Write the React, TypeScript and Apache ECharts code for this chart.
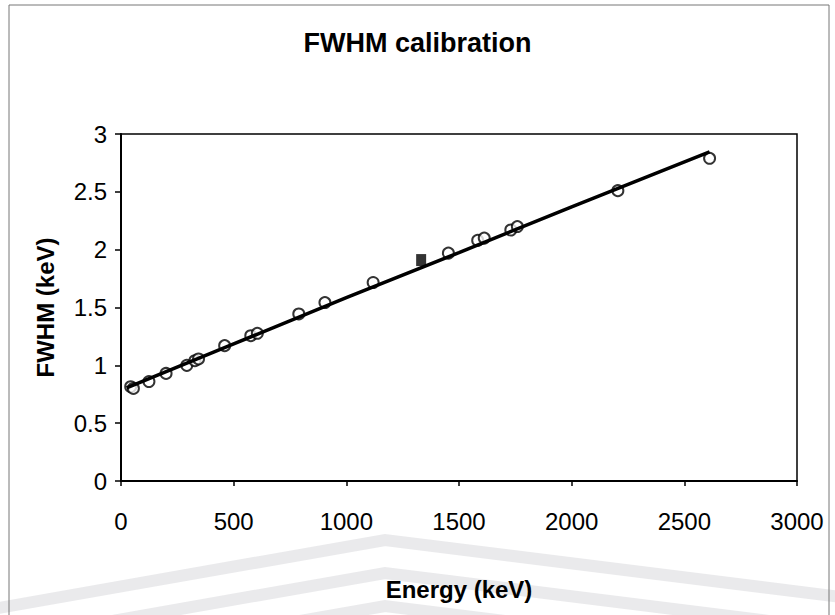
import React, { useEffect, useRef } from "react";
import * as echarts from "echarts";

const energies = [43, 55, 124, 200, 292, 328, 344, 460, 576, 605, 789, 905, 1119, 1453, 1583, 1612, 1730, 1759, 2205, 2612];
const fwhm = [0.815, 0.8, 0.86, 0.93, 1.0, 1.04, 1.055, 1.17, 1.256, 1.277, 1.444, 1.543, 1.716, 1.97, 2.08, 2.1, 2.17, 2.2, 2.51, 2.79];
const refEnergy = [1332];
const refFwhm = [1.91];
const fitEnergy = [25, 500, 1000, 1500, 2000, 2612];
const fitFwhm = [0.805, 1.185, 1.585, 1.975, 2.37, 2.845];

const FONT = "'Liberation Sans Narrow', 'Liberation Sans', Arial, sans-serif";

export default function App() {
  const ref = useRef<HTMLDivElement>(null);
  useEffect(() => {
    if (!ref.current) return;
    const chart = echarts.init(ref.current, null, { renderer: "svg" });
    const band = (y: number) => ({
      type: "polyline",
      silent: true,
      z: -10,
      shape: { points: [[-20, y + 405 * 0.176], [385, y], [855, y + 470 * 0.125]] },
      style: { stroke: "#dcdce0", lineWidth: 12, fill: null, opacity: 0.6 },
    });
    chart.setOption({
      animation: false,
      backgroundColor: "#ffffff",
      title: {
        text: "FWHM calibration",
        left: "center",
        top: 24,
        textStyle: { fontFamily: FONT, fontSize: 27, fontWeight: "bold", color: "#000" },
      },
      graphic: [
        band(540),
        band(573),
        band(606),
        {
          type: "rect",
          silent: true,
          z: -5,
          shape: { x: 9, y: 5, width: 820, height: 640 },
          style: { stroke: "#777", lineWidth: 1, fill: null },
        },
      ],
      grid: {
        left: 121,
        right: 38,
        top: 134,
        bottom: 134,
        show: true,
        borderColor: "#000",
        borderWidth: 1.5,
        backgroundColor: "transparent",
      },
      xAxis: {
        type: "value",
        min: 0,
        max: 3000,
        interval: 500,
        name: "Energy (keV)",
        nameLocation: "middle",
        nameGap: 96,
        nameTextStyle: { fontFamily: FONT, fontSize: 24, fontWeight: "bold", color: "#000" },
        axisLine: { show: true, lineStyle: { color: "#000", width: 2 } },
        axisTick: { show: true, length: 5, lineStyle: { color: "#000", width: 1.5 } },
        axisLabel: {
          margin: 28,
          fontFamily: FONT,
          fontSize: 24,
          color: "#000",
          formatter: (v: number) => String(v),
        },
        splitLine: { show: false },
      },
      yAxis: {
        type: "value",
        min: 0,
        max: 3,
        interval: 0.5,
        name: "FWHM (keV)",
        nameLocation: "middle",
        nameGap: 64,
        nameTextStyle: { fontFamily: FONT, fontSize: 24, fontWeight: "bold", color: "#000" },
        axisLine: { show: true, lineStyle: { color: "#000", width: 2 } },
        axisTick: { show: true, length: 6, lineStyle: { color: "#000", width: 1.5 } },
        axisLabel: {
          margin: 14,
          fontFamily: FONT,
          fontSize: 24,
          color: "#000",
          formatter: (v: number) => String(v),
        },
        splitLine: { show: false },
      },
      series: [
        {
          type: "scatter",
          name: "Measured",
          data: energies.map((e, i) => [e, fwhm[i]]),
          symbol: "circle",
          symbolSize: 11,
          itemStyle: { color: "#fff", borderColor: "#000", borderWidth: 2 },
          z: 2,
        },
        {
          type: "scatter",
          name: "Co-60",
          data: refEnergy.map((e, i) => [e, refFwhm[i]]),
          symbol: "rect",
          symbolSize: [10, 12],
          itemStyle: { color: "#000" },
          z: 3,
        },
        {
          type: "line",
          name: "Fit",
          data: fitEnergy.map((e, i) => [e, fitFwhm[i]]),
          showSymbol: false,
          symbol: "none",
          smooth: false,
          lineStyle: { color: "#000", width: 3.5 },
          z: 4,
        },
      ],
    });
    return () => chart.dispose();
  }, []);
  return (
    <div
      ref={ref}
      style={{ position: "fixed", left: 0, top: 0, width: 835, height: 615, background: "#fff" }}
    />
  );
}
